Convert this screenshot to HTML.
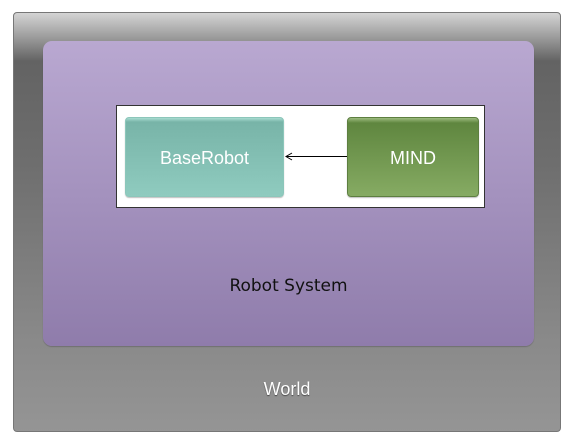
<!DOCTYPE html>
<html><head><style>
body{margin:0;width:573px;height:446px;background:#fff;position:relative;overflow:hidden;font-family:"Liberation Sans",sans-serif}
div{position:absolute;box-sizing:border-box}
.outer{left:13px;top:12px;width:548px;height:420px;border:1px solid #777;border-radius:4px;background:linear-gradient(#d4d4d4 0px,#9a9a9a 25px,#636363 48px,#6e6e6e 150px,#8a8a8a 330px,#959595 420px)}
.purple{left:43px;top:41px;width:491px;height:305px;border-radius:9px;background:linear-gradient(#b9a8d1,#8f7cab);box-shadow:0 1px 1px rgba(0,0,0,.2)}
.white{left:116px;top:105px;width:369px;height:103px;background:#fff;border:1px solid #333}
.node{top:117px;height:80px;border-radius:4px;color:#fff;font-size:18px;display:flex;align-items:center;justify-content:center;box-shadow:0 1px 1px rgba(0,0,0,.25);padding-top:2px}
.br{left:125px;width:159px;background:linear-gradient(#a8dcd1 0,#78b4a8 4px,#8fcbbf 100%);border:1px solid #8cc6ba}
.mind{left:347px;width:132px;background:linear-gradient(#9dbb80 0,#5f863f 5px,#86ab63 100%);border:1px solid #5d7f40}
.rs{left:43px;width:491px;top:276px;text-align:center;font-family:"DejaVu Sans",sans-serif;font-size:17px;color:#111}
.w{left:13px;width:548px;top:379px;text-align:center;font-size:18px;color:#fff;text-shadow:0 1px 1px rgba(0,0,0,.5)}
</style></head><body>
<div class="outer"></div>
<div class="purple"></div>
<div class="white"></div>
<div class="node br">BaseRobot</div>
<div class="node mind">MIND</div>
<svg style="position:absolute;left:0;top:0" width="573" height="446"><line x1="347" y1="156.5" x2="286" y2="156.5" stroke="#000" stroke-width="1"/><path d="M292 153 L286 156.5 L292 160" fill="none" stroke="#000" stroke-width="1"/></svg>
<div class="rs">Robot System</div>
<div class="w">World</div>
</body></html>
